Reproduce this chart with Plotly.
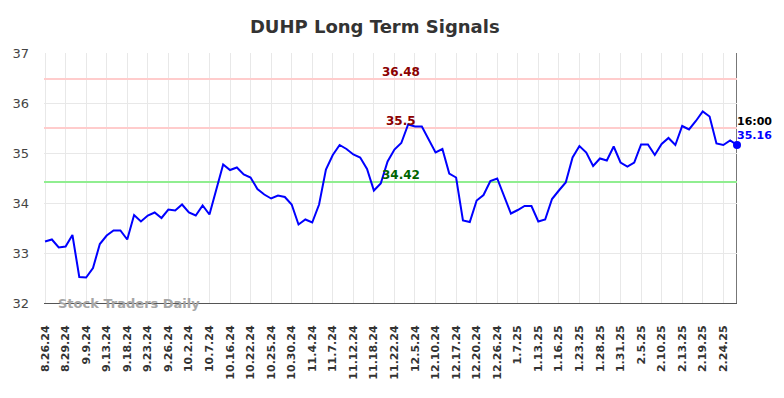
import plotly.graph_objects as go

# Closing values (one point per sample)
values = [
    33.23, 33.27, 33.11, 33.13, 33.36, 32.52, 32.51, 32.70, 33.18, 33.35,
    33.45, 33.45, 33.27, 33.76, 33.63, 33.75, 33.81, 33.70, 33.87, 33.85,
    33.97, 33.81, 33.75, 33.95, 33.77, 34.26, 34.77, 34.66, 34.71, 34.57,
    34.51, 34.28, 34.17, 34.09, 34.15, 34.12, 33.97, 33.57, 33.67, 33.61,
    33.97, 34.67, 34.96, 35.16, 35.08, 34.97, 34.91, 34.68, 34.25, 34.39,
    34.83, 35.07, 35.20, 35.57, 35.53, 35.53, 35.26, 35.01, 35.08, 34.59,
    34.51, 33.65, 33.62, 34.05, 34.16, 34.44, 34.49, 34.14, 33.79, 33.86,
    33.94, 33.94, 33.63, 33.67, 34.08, 34.25, 34.41, 34.91, 35.14, 35.01,
    34.74, 34.89, 34.85, 35.13, 34.81, 34.73, 34.81, 35.17, 35.17, 34.96,
    35.18, 35.30, 35.16, 35.54, 35.47, 35.64, 35.83, 35.73, 35.19, 35.16,
    35.25, 35.16,
]

tick_labels = [
    "8.26.24", "8.29.24", "9.9.24", "9.13.24", "9.18.24", "9.23.24", "9.26.24",
    "10.2.24", "10.7.24", "10.16.24", "10.22.24", "10.25.24", "10.30.24",
    "11.4.24", "11.7.24", "11.12.24", "11.18.24", "11.22.24", "12.5.24",
    "12.10.24", "12.17.24", "12.20.24", "12.26.24", "1.7.25", "1.13.25",
    "1.16.25", "1.23.25", "1.28.25", "1.31.25", "2.5.25", "2.10.25",
    "2.13.25", "2.19.25", "2.24.25",
]
tick_step = 3

resistance_levels = [36.48, 35.5]
support_levels = [34.42]
last_time = "16:00"
title = "DUHP Long Term Signals"

x_idx = list(range(len(values)))
tick_positions = [i * tick_step for i in range(len(tick_labels))]
last_i = len(values) - 1
label_i = 52

fig = go.Figure()

for lvl in resistance_levels:
    fig.add_trace(go.Scatter(x=[-0.15, last_i], y=[lvl, lvl], mode="lines",
                             line=dict(color="#ffcccc", width=2),
                             hoverinfo="skip", showlegend=False))
for lvl in support_levels:
    fig.add_trace(go.Scatter(x=[-0.15, last_i], y=[lvl, lvl], mode="lines",
                             line=dict(color="#90ee90", width=2),
                             hoverinfo="skip", showlegend=False))

fig.add_trace(go.Scatter(x=x_idx, y=values, mode="lines",
                         line=dict(color="#0000ff", width=2),
                         showlegend=False))
fig.add_trace(go.Scatter(x=[last_i], y=[values[-1]], mode="markers",
                         marker=dict(color="#0000ff", size=8),
                         cliponaxis=False, showlegend=False))

annotations = []
for lvl in resistance_levels:
    annotations.append(dict(x=label_i, y=lvl, text=f"<b>{lvl:g}</b>",
                            showarrow=False, yshift=7,
                            font=dict(family="DejaVu Sans", size=12, color="#8b0000")))
for lvl in support_levels:
    annotations.append(dict(x=label_i, y=lvl, text=f"<b>{lvl:g}</b>",
                            showarrow=False, yshift=7,
                            font=dict(family="DejaVu Sans", size=12, color="#006400")))
annotations.append(dict(x=last_i, y=values[-1], text=f"<b>{last_time}</b>",
                        showarrow=False, xanchor="left", xshift=-2, yshift=24,
                        font=dict(family="DejaVu Sans", size=11, color="#000000")))
annotations.append(dict(x=last_i, y=values[-1], text=f"<b>{values[-1]:.2f}</b>",
                        showarrow=False, xanchor="left", xshift=-2, yshift=10,
                        font=dict(family="DejaVu Sans", size=11, color="#0000ff")))
annotations.append(dict(xref="paper", yref="paper", x=0.018, y=0.0,
                        text="<b>Stock Traders Daily</b>", showarrow=False,
                        xanchor="left", yanchor="middle",
                        font=dict(family="DejaVu Sans", size=13, color="#a6a6a6")))

fig.update_layout(
    width=784, height=398,
    margin=dict(l=41, r=47, t=53, b=95),
    paper_bgcolor="white", plot_bgcolor="white",
    title=dict(text=f"<b>{title}</b>", x=0.478, xanchor="center", y=0.932,
               yanchor="middle",
               font=dict(family="DejaVu Sans", size=18, color="#333333")),
    annotations=annotations,
    xaxis=dict(range=[-0.15, last_i], tickmode="array", tickvals=tick_positions,
               ticktext=[f"<b>{t}</b>" for t in tick_labels], tickangle=-90,
               showgrid=True, gridcolor="#e8e8e8", gridwidth=1, zeroline=False,
               showline=True, linecolor="#555555", linewidth=1,
               ticks="", ticklabelstandoff=17,
               tickfont=dict(family="DejaVu Sans", size=11, color="#333333"),
               mirror=False),
    yaxis=dict(range=[32, 37], tickvals=[32, 33, 34, 35, 36, 37],
               showgrid=True, gridcolor="#e8e8e8", gridwidth=1, zeroline=False,
               showline=False, ticks="", ticklabelstandoff=14,
               tickfont=dict(family="DejaVu Sans", size=13, color="#444444")),
    shapes=[dict(type="line", xref="x", yref="paper", x0=last_i, x1=last_i,
                 y0=0, y1=1, layer="below",
                 line=dict(color="#777777", width=2))],
)

fig.write_html("out.html", config={"displayModeBar": False},
               post_script="document.body.style.margin='0';document.body.style.overflow='hidden';")
